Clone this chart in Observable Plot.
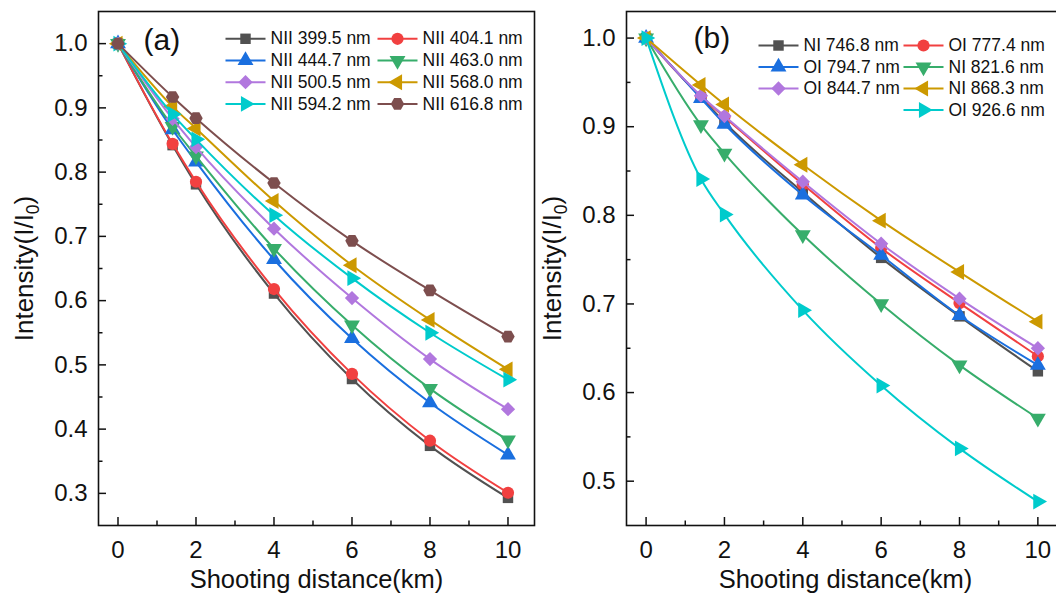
<!DOCTYPE html>
<html><head><meta charset="utf-8">
<script src="https://cdn.jsdelivr.net/npm/d3@7"></script>
<script src="https://cdn.jsdelivr.net/npm/@observablehq/plot@0.6"></script>
<style>
body{margin:0;background:#fff;overflow:hidden}
#wrap{position:relative;width:1056px;height:595px;overflow:hidden;background:#fff}
.panel{position:absolute;top:0;width:540px;height:595px}
.panel svg{overflow:visible;max-width:none !important}
</style>
</head><body>
<div id="wrap"><div id="pa" class="panel" style="left:0"></div><div id="pb" class="panel" style="left:528px"></div></div>
<script>
// ---------- data ----------
const distance = [0, 1.4, 2, 4, 6, 8, 10];

const namesA = ["NII 399.5 nm","NII 404.1 nm","NII 444.7 nm","NII 463.0 nm","NII 500.5 nm","NII 568.0 nm","NII 594.2 nm","NII 616.8 nm"];
const intensityA = [
  [1, 0.842, 0.781, 0.611, 0.478, 0.374, 0.293],
  [1, 0.844, 0.785, 0.618, 0.486, 0.382, 0.301],
  [1, 0.866, 0.816, 0.664, 0.541, 0.441, 0.360],
  [1, 0.871, 0.825, 0.681, 0.562, 0.463, 0.383],
  [1, 0.883, 0.839, 0.712, 0.604, 0.509, 0.431],
  [1, 0.902, 0.868, 0.755, 0.655, 0.570, 0.493],
  [1, 0.890, 0.851, 0.733, 0.635, 0.550, 0.477],
  [1, 0.917, 0.884, 0.783, 0.693, 0.616, 0.544]
];

const namesB = ["NI 746.8 nm","OI 777.4 nm","OI 794.7 nm","NI 821.6 nm","OI 844.7 nm","NI 868.3 nm","OI 926.6 nm"];
const intensityB = [
  [1, 0.933, 0.905, 0.826, 0.752, 0.686, 0.624],
  [1, 0.934, 0.911, 0.835, 0.763, 0.701, 0.641],
  [1, 0.932, 0.903, 0.823, 0.755, 0.687, 0.631],
  [1, 0.902, 0.870, 0.778, 0.700, 0.631, 0.571],
  [1, 0.935, 0.912, 0.838, 0.768, 0.706, 0.650],
  [1, 0.947, 0.925, 0.857, 0.794, 0.736, 0.680],
  [1, 0.841, 0.801, 0.693, 0.608, 0.537, 0.477]
];

const xMajor = [0, 2, 4, 6, 8, 10];
const xMinor = [1, 3, 5, 7, 9];
const yMajorA = [0.3, 0.4, 0.5, 0.6, 0.7, 0.8, 0.9, 1.0];
const yMinorA = [0.35, 0.45, 0.55, 0.65, 0.75, 0.85, 0.95];
const yMajorB = [0.5, 0.6, 0.7, 0.8, 0.9, 1.0];
const yMinorB = [0.55, 0.65, 0.75, 0.85, 0.95];

// ---------- styles ----------
const colors = ["#515151","#F14040","#1A6FDF","#37AD6B","#B177DE","#CC9900","#00CBCC","#7D4E4E"];
const hexagon = {draw(ctx, size){const R=Math.sqrt(2*size/(3*Math.sqrt(3)));for(let k=0;k<6;k++){const a=k*Math.PI/3;const px=R*Math.cos(a),py=R*Math.sin(a);k?ctx.lineTo(px,py):ctx.moveTo(px,py);}ctx.closePath();}};
const legendLine = {draw(ctx){ctx.moveTo(-20,0);ctx.lineTo(20,0);}};
const markers = [
  {symbol:"square", rotate:0, r:5.9},
  {symbol:"circle", rotate:0, r:6.1},
  {symbol:"triangle", rotate:0, r:5.9},
  {symbol:"triangle", rotate:180, r:5.9},
  {symbol:"square", rotate:45, r:5.7},
  {symbol:"triangle", rotate:-90, r:5.9},
  {symbol:"triangle", rotate:90, r:5.9},
  {symbol:hexagon, rotate:0, r:6.1}
];
const FONT = "'Liberation Sans', Arial, sans-serif";
const INK = "#111";

function panel(el, {names, values, yDomain, yMajor, yMinor, tag, tagDx, tagDy, legend, left}) {
  const width = 540, height = 595, mL = 98, mR = left ? 6 : 4, mT = 11, mB = 70;
  const innerW = width - mL - mR, innerH = height - mT - mB;
  const marks = [];
  // ticks (inward)
  marks.push(Plot.tickX(xMajor, {x: d => d, insetTop: innerH - 8, stroke: INK, strokeWidth: 1.5}));
  marks.push(Plot.tickX(xMinor, {x: d => d, insetTop: innerH - 4.5, stroke: INK, strokeWidth: 1.5}));
  marks.push(Plot.tickY(yMajor, {y: d => d, insetRight: innerW - 8, stroke: INK, strokeWidth: 1.5}));
  marks.push(Plot.tickY(yMinor, {y: d => d, insetRight: innerW - 4.5, stroke: INK, strokeWidth: 1.5}));
  marks.push(Plot.axisX({ticks: xMajor, tickSize: 0, tickPadding: 15, fontSize: 24, label: null, tickFormat: d => String(d), fill: INK}));
  marks.push(Plot.axisY({ticks: yMajor, tickSize: 0, tickPadding: 11, fontSize: 24, label: null, tickFormat: d3.format(".1f"), fill: INK}));
  // series
  values.forEach((vals, i) => {
    const rows = distance.map((x, j) => ({x, y: vals[j]}));
    marks.push(Plot.line(rows, {x: "x", y: "y", stroke: colors[i], strokeWidth: 2, curve: "monotone-x"}));
    marks.push(Plot.dot(rows, {x: "x", y: "y", symbol: markers[i].symbol, rotate: markers[i].rotate, r: markers[i].r, fill: colors[i], stroke: "none"}));
  });
  // legend
  names.forEach((name, i) => {
    const [col, row] = legend.cell(i);
    const dx = legend.colX[col], dy = legend.rowY0 + row * legend.rowStep;
    marks.push(Plot.dot([name], {frameAnchor: "top-left", dx: dx + 20, dy, symbol: legendLine, stroke: colors[i], strokeWidth: 2, fill: "none"}));
    marks.push(Plot.dot([name], {frameAnchor: "top-left", dx: dx + 20, dy, symbol: markers[i].symbol, rotate: markers[i].rotate, r: markers[i].r, fill: colors[i], stroke: "none"}));
    marks.push(Plot.text([name], {frameAnchor: "top-left", dx: dx + 45, dy, text: d => d, textAnchor: "start", lineAnchor: "middle", fontSize: 17.5, fill: INK}));
  });
  // labels
  marks.push(Plot.text([tag], {frameAnchor: "top-left", dx: tagDx, dy: tagDy, text: d => d, textAnchor: "start", lineAnchor: "middle", fontSize: 30, fill: INK}));
  marks.push(Plot.text(["Shooting distance(km)"], {frameAnchor: "bottom", dy: 44, text: d => d, lineAnchor: "top", fontSize: 25.5, fill: INK}));
  marks.push(Plot.text(["Intensity(I/I0)"], {frameAnchor: "left", dx: -(mL - 24), text: d => d, rotate: -90, textAnchor: "middle", lineAnchor: "middle", fontSize: 26, fill: INK}));
  marks.push(Plot.frame({stroke: INK, strokeWidth: 1.6}));

  const svg = Plot.plot({
    width, height, marginLeft: mL, marginRight: mR, marginTop: mT, marginBottom: mB,
    x: {domain: [-0.5, 10.68], axis: null},
    y: {domain: yDomain, axis: null},
    style: {fontFamily: FONT, background: "transparent", overflow: "visible", color: INK, maxWidth: "none"},
    marks
  });
  // subscript in y label
  svg.querySelectorAll("text").forEach(t => {
    if (t.textContent === "Intensity(I/I0)") {
      t.textContent = "Intensity(I/I";
      const ns = "http://www.w3.org/2000/svg";
      const s = document.createElementNS(ns, "tspan");
      s.setAttribute("font-size", "17.5"); s.setAttribute("dy", "6"); s.textContent = "0";
      const c = document.createElementNS(ns, "tspan");
      c.setAttribute("dy", "-6"); c.textContent = ")";
      t.appendChild(s); t.appendChild(c);
    }
  });
  el.appendChild(svg);
}

panel(document.getElementById("pa"), {
  names: namesA, values: intensityA, yDomain: [0.25, 1.05], yMajor: yMajorA, yMinor: yMinorA,
  tag: "(a)", tagDx: 45, tagDy: 29, left: true,
  legend: {colX: [127, 279], rowY0: 27.3, rowStep: 21.7, cell: i => [i % 2, Math.floor(i / 2)]}
});
panel(document.getElementById("pb"), {
  names: namesB, values: intensityB, yDomain: [0.45, 1.03], yMajor: yMajorB, yMinor: yMinorB,
  tag: "(b)", tagDx: 67, tagDy: 27, left: false,
  legend: {colX: [132, 277], rowY0: 34, rowStep: 21.5, cell: i => i === 6 ? [1, 3] : [i % 2, Math.floor(i / 2)]}
});
</script>
</body></html>
